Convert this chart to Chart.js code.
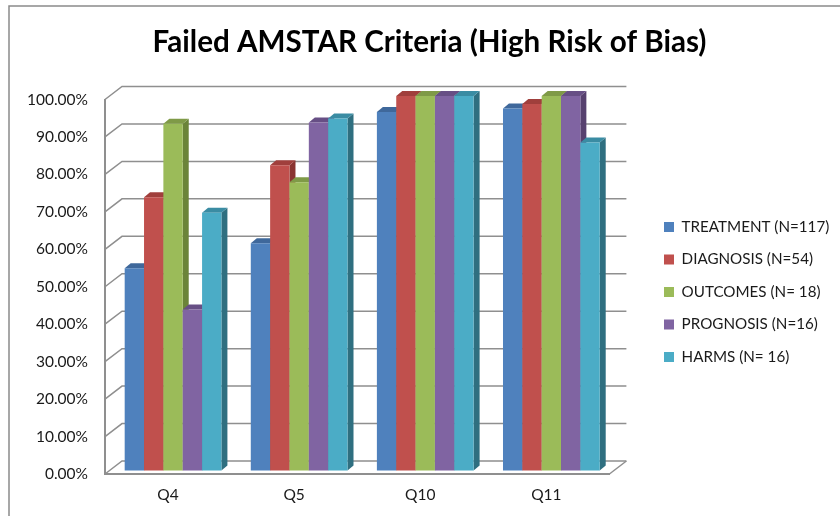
<!DOCTYPE html>
<html>
<head>
<meta charset="utf-8">
<style>
  html, body { margin: 0; padding: 0; background: #fff; }
  #wrap { width: 840px; height: 516px; }
</style>
<script src="https://cdn.jsdelivr.net/npm/chart.js@4/dist/chart.umd.min.js"></script>
</head>
<body>
<div id="wrap"><canvas id="chart" width="840" height="516"></canvas></div>
<script>
const categories = ['Q4', 'Q5', 'Q10', 'Q11'];
const seriesNames = ['TREATMENT (N=117)', 'DIAGNOSIS (N=54)', 'OUTCOMES (N= 18)', 'PROGNOSIS (N=16)', 'HARMS (N= 16)'];
const treatment = [54, 60.7, 95.7, 96.7];
const diagnosis = [73, 81.5, 100, 97.9];
const outcomes = [92.6, 77, 100, 100];
const prognosis = [43, 92.9, 100, 100];
const harms = [68.8, 94, 100, 87.6];
const frontColors = ['#4f81bd', '#c0504d', '#9bbb59', '#8064a2', '#4bacc6'];
const sideColors = ['#355a8a', '#8a3431', '#6b8439', '#57416f', '#2f6f80'];
const topColors = ['#3f689b', '#a03f3c', '#7f9a47', '#674f85', '#3a8ca3'];
const allSeries = [treatment, diagnosis, outcomes, prognosis, harms];

const FONT = 'Lato, Carlito, sans-serif';
const WALL = { dx: 17, dy: -13 };   // depth of the chart box
const BAR = { dx: 6, dy: -5 };      // depth of one bar
const SHIFT = { x: 5, y: -3.5 };    // bars stand a little inside the box
const LINE = '#8f8f8f';
const LEGEND_PAD = 17.3;

function face(ctx, color, pts) {
    ctx.fillStyle = color;
    ctx.beginPath();
    ctx.moveTo(pts[0][0], pts[0][1]);
    for (let i = 1; i < pts.length; i++) ctx.lineTo(pts[i][0], pts[i][1]);
    ctx.closePath();
    ctx.fill();
}

const box3d = {
    id: 'box3d',
    afterLayout(chart) {
        // legend and title do not sit where the box layout would put them
        const lg = chart.legend;
        lg.left = 664 - LEGEND_PAD; lg.right = lg.left + lg.width;
        lg.top += 34; lg.bottom += 34;
        chart.titleBlock.left = 19;
        chart.titleBlock.right = 840;
    },
    beforeDraw(chart) {
        const ctx = chart.ctx;
        ctx.save();
        ctx.strokeStyle = '#8a8a8a';
        ctx.lineWidth = 1.5;
        ctx.beginPath();
        ctx.moveTo(9, 516);
        ctx.lineTo(9, 6);
        ctx.lineTo(840, 6);
        ctx.stroke();
        ctx.restore();
    },
    beforeDatasetsDraw(chart) {
        const ctx = chart.ctx;
        const area = chart.chartArea;
        const y = chart.scales.y;
        ctx.save();
        ctx.strokeStyle = LINE;
        ctx.lineWidth = 1.5;
        y.ticks.forEach(t => {
            const py = y.getPixelForValue(t.value);
            ctx.beginPath();
            ctx.moveTo(area.left, py);
            ctx.lineTo(area.left + WALL.dx, py + WALL.dy);
            ctx.lineTo(area.right + WALL.dx, py + WALL.dy);
            ctx.stroke();
        });
        ctx.beginPath();
        ctx.moveTo(area.right, area.bottom);
        ctx.lineTo(area.right + WALL.dx, area.bottom + WALL.dy);
        ctx.stroke();
        ctx.translate(SHIFT.x, SHIFT.y);
        chart.data.datasets.forEach((ds, i) => {
            chart.getDatasetMeta(i).data.forEach(bar => {
                const l = bar.x - bar.width / 2, r = bar.x + bar.width / 2;
                face(ctx, sideColors[i], [[r, bar.y], [r + BAR.dx, bar.y + BAR.dy], [r + BAR.dx, bar.base + BAR.dy], [r, bar.base]]);
                face(ctx, topColors[i], [[l, bar.y], [l + BAR.dx, bar.y + BAR.dy], [r + BAR.dx, bar.y + BAR.dy], [r, bar.y]]);
                bar.draw(ctx);
            });
        });
        ctx.restore();
        return false;
    }
};

new Chart(document.getElementById('chart'), {
    type: 'bar',
    data: {
        labels: categories,
        datasets: seriesNames.map((name, i) => ({
            label: name,
            data: allSeries[i],
            backgroundColor: frontColors[i],
            borderWidth: 0,
            barPercentage: 1,
            categoryPercentage: 0.767
        }))
    },
    options: {
        responsive: false,
        animation: false,
        layout: { padding: { right: 38 } },
        plugins: {
            tooltip: { enabled: false },
            title: {
                display: true,
                text: 'Failed AMSTAR Criteria (High Risk of Bias)',
                color: '#000',
                font: { family: FONT, size: 29.6, weight: 'bold', lineHeight: 1.2 },
                padding: { top: 25, bottom: 39 }
            },
            legend: {
                position: 'right',
                labels: {
                    boxWidth: 10,
                    boxHeight: 10,
                    padding: LEGEND_PAD,
                    color: '#1a1a1a',
                    font: { family: FONT, size: 15.2 }
                }
            }
        },
        scales: {
            x: {
                grid: { display: false },
                border: { color: LINE, width: 2 },
                afterFit(s) { s.height = 42; },
                ticks: { color: '#1a1a1a', padding: 4, maxRotation: 0, font: { family: FONT, size: 15.5 } }
            },
            y: {
                min: 0,
                max: 100,
                grid: { display: false },
                border: { color: LINE, width: 2 },
                afterFit(s) { s.width = 105; },
                ticks: {
                    stepSize: 10,
                    color: '#1a1a1a',
                    padding: 9,
                    font: { family: FONT, size: 15.5 },
                    callback: function(value) { return value.toFixed(2) + '%'; }
                }
            }
        }
    },
    plugins: [box3d]
});
</script>
</body>
</html>
